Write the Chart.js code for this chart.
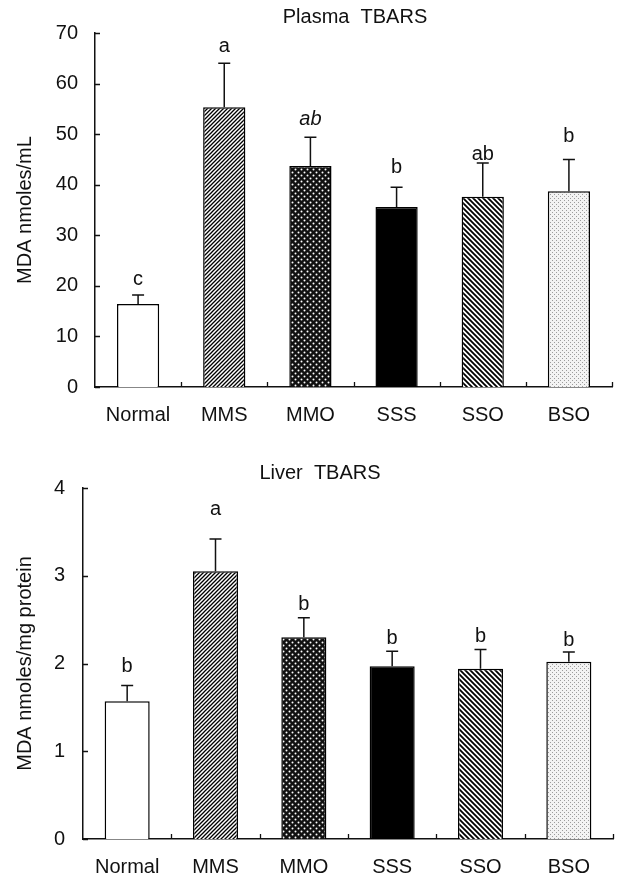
<!DOCTYPE html>
<html>
<head>
<meta charset="utf-8">
<script src="https://cdn.jsdelivr.net/npm/chart.js@4.4.1/dist/chart.umd.min.js"></script>
<style>
  html, body { margin: 0; padding: 0; background: #fff; }
  .panel { position: absolute; left: 0; width: 619px; }
  #plasmaBox { top: 0; height: 440px; }
  #liverBox { top: 440px; height: 439px; }
</style>
</head>
<body>
<div class="panel" id="plasmaBox"><canvas id="plasmaChart"></canvas></div>
<div class="panel" id="liverBox"><canvas id="liverChart"></canvas></div>
<script>
// groups on the x axis
const groups = ['Normal', 'MMS', 'MMO', 'SSS', 'SSO', 'BSO'];

// Plasma TBARS (MDA nmoles/mL)
const plasmaMean = [16.4, 55.3, 43.7, 35.6, 37.6, 38.7];
const plasmaSD = [1.8, 8.7, 5.7, 3.9, 6.7, 6.3];
const plasmaLetters = ['c', 'a', 'ab', 'b', 'ab', 'b'];
const plasmaTicks = [0, 10, 20, 30, 40, 50, 60, 70];

// Liver TBARS (MDA nmoles/mg protein)
const liverMean = [1.57, 3.05, 2.30, 1.97, 1.94, 2.02];
const liverSD = [0.18, 0.37, 0.22, 0.17, 0.22, 0.11];
const liverLetters = ['b', 'a', 'b', 'b', 'b', 'b'];
const liverTicks = [0, 1, 2, 3, 4];

const FONT = '"Liberation Sans", Arial, Helvetica, sans-serif';
const FSIZE = 20;

// --- fill patterns for the bars ---
function tile(size) {
    const c = document.createElement('canvas');
    c.width = c.height = size;
    return c;
}

function hatch(period, lw, forward) {
    const c = tile(period);
    const g = c.getContext('2d');
    g.fillStyle = '#fff';
    g.fillRect(0, 0, period, period);
    g.strokeStyle = '#000';
    g.lineWidth = lw;
    g.beginPath();
    if (forward) { // "/"
        g.moveTo(-1, period + 1); g.lineTo(period + 1, -1);
        g.moveTo(-1, 1); g.lineTo(1, -1);
        g.moveTo(period - 1, period + 1); g.lineTo(period + 1, period - 1);
    } else { // "\"
        g.moveTo(-1, -1); g.lineTo(period + 1, period + 1);
        g.moveTo(period - 1, -1); g.lineTo(period + 1, 1);
        g.moveTo(-1, period - 1); g.lineTo(1, period + 1);
    }
    g.stroke();
    return g.createPattern(c, 'repeat');
}

function darkDots() {
    const c = tile(6);
    const g = c.getContext('2d');
    g.fillStyle = '#111';
    g.fillRect(0, 0, 6, 6);
    g.fillStyle = '#fff';
    [[1.5, 1.5], [4.5, 4.5]].forEach(([x, y]) => {
        g.beginPath(); g.arc(x, y, 1.0, 0, Math.PI * 2); g.fill();
    });
    return g.createPattern(c, 'repeat');
}

function lightStipple() {
    const c = tile(4);
    const g = c.getContext('2d');
    g.fillStyle = '#f3f3f3';
    g.fillRect(0, 0, 4, 4);
    g.fillStyle = '#9c9c9c';
    g.fillRect(0, 0, 1, 1);
    g.fillRect(2, 2, 1, 1);
    return g.createPattern(c, 'repeat');
}

const barFills = [
    '#ffffff',
    hatch(4, 1.3, true),
    darkDots(),
    '#000000',
    hatch(5, 1.8, false),
    lightStipple()
];

// error bars, significance letters, inward ticks and panel title
function makeDecor(cfg) {
    return {
        id: 'decor',
        afterDraw(chart) {
            const { ctx, chartArea: a, scales: { x, y } } = chart;
            const meta = chart.getDatasetMeta(0);
            ctx.save();
            ctx.strokeStyle = '#111';
            ctx.fillStyle = '#111';

            // ticks point into the plot
            ctx.lineWidth = 1.3;
            ctx.beginPath();
            y.ticks.forEach(t => {
                const py = Math.round(y.getPixelForValue(t.value)) + 0.5;
                ctx.moveTo(a.left, py);
                ctx.lineTo(a.left + 5, py);
            });
            for (let i = 0; i < groups.length; i++) {
                const px = Math.round(x.getPixelForValue(i + 0.5)) + 0.5;
                ctx.moveTo(px, a.bottom);
                ctx.lineTo(px, a.bottom - 5);
            }
            ctx.stroke();

            // error bars (upper only) + letters
            ctx.lineWidth = 1.5;
            ctx.textAlign = 'center';
            ctx.textBaseline = 'alphabetic';
            meta.data.forEach((bar, i) => {
                const top = y.getPixelForValue(cfg.mean[i] + cfg.sd[i]);
                ctx.beginPath();
                ctx.moveTo(bar.x, bar.y);
                ctx.lineTo(bar.x, top);
                ctx.moveTo(bar.x - 6, top);
                ctx.lineTo(bar.x + 6, top);
                ctx.stroke();
                ctx.font = (cfg.italic[i] ? 'italic ' : '') + FSIZE + 'px ' + FONT;
                ctx.fillText(cfg.letters[i], bar.x, top - cfg.gaps[i]);
            });

            ctx.font = FSIZE + 'px ' + FONT;
            ctx.textBaseline = 'middle';
            ctx.fillText(cfg.title, cfg.titleX, cfg.titleY);
            ctx.restore();
        }
    };
}

function makeChart(id, cfg) {
    const ctx = document.getElementById(id).getContext('2d');
    return new Chart(ctx, {
        type: 'bar',
        data: {
            labels: groups,
            datasets: [{
                data: cfg.mean,
                backgroundColor: barFills,
                borderColor: '#000',
                borderWidth: 1.5,
                barPercentage: cfg.barPct,
                categoryPercentage: 1.0
            }]
        },
        options: {
            responsive: true,
            maintainAspectRatio: false,
            animation: false,
            layout: { padding: cfg.padding },
            plugins: {
                legend: { display: false },
                tooltip: { enabled: false }
            },
            scales: {
                x: {
                    grid: { display: false },
                    border: { display: true, color: '#111', width: 1.5 },
                    ticks: { color: '#111', font: { family: FONT, size: FSIZE }, padding: 8, maxRotation: 0 },
                    afterFit: s => { s.height = cfg.xHeight; }
                },
                y: {
                    min: cfg.ticks[0],
                    max: cfg.ticks[cfg.ticks.length - 1],
                    grid: { display: false },
                    border: { display: true, color: '#111', width: 1.5 },
                    afterBuildTicks: s => { s.ticks = cfg.ticks.map(v => ({ value: v })); },
                    ticks: { color: '#111', font: { family: FONT, size: FSIZE }, padding: cfg.tickPad },
                    title: {
                        display: true,
                        text: cfg.yTitle,
                        color: '#111',
                        font: { family: FONT, size: FSIZE },
                        padding: { top: 13, bottom: 0 }
                    },
                    afterFit: s => { s.width = cfg.yWidth; }
                }
            }
        },
        plugins: [makeDecor(cfg)]
    });
}

makeChart('plasmaChart', {
    mean: plasmaMean,
    sd: plasmaSD,
    letters: plasmaLetters,
    ticks: plasmaTicks,
    italic: [false, false, true, false, false, false],
    gaps: [10, 11, 12, 14, 3, 17],
    title: 'Plasma  TBARS',
    titleX: 355,
    titleY: 17,
    yTitle: 'MDA nmoles/mL',
    padding: { top: 33, right: 7, left: 0, bottom: 0 },
    yWidth: 95,
    xHeight: 53,
    tickPad: 9,
    barPct: 0.49
});

makeChart('liverChart', {
    mean: liverMean,
    sd: liverSD,
    letters: liverLetters,
    ticks: liverTicks,
    italic: [false, false, false, false, false, false],
    gaps: [13, 24, 8, 7, 7, 6],
    title: 'Liver  TBARS',
    titleX: 320,
    titleY: 33,
    yTitle: 'MDA nmoles/mg protein',
    padding: { top: 48, right: 6, left: 0, bottom: 0 },
    yWidth: 83,
    xHeight: 40,
    tickPad: 10,
    barPct: 0.51
});
</script>
</body>
</html>
